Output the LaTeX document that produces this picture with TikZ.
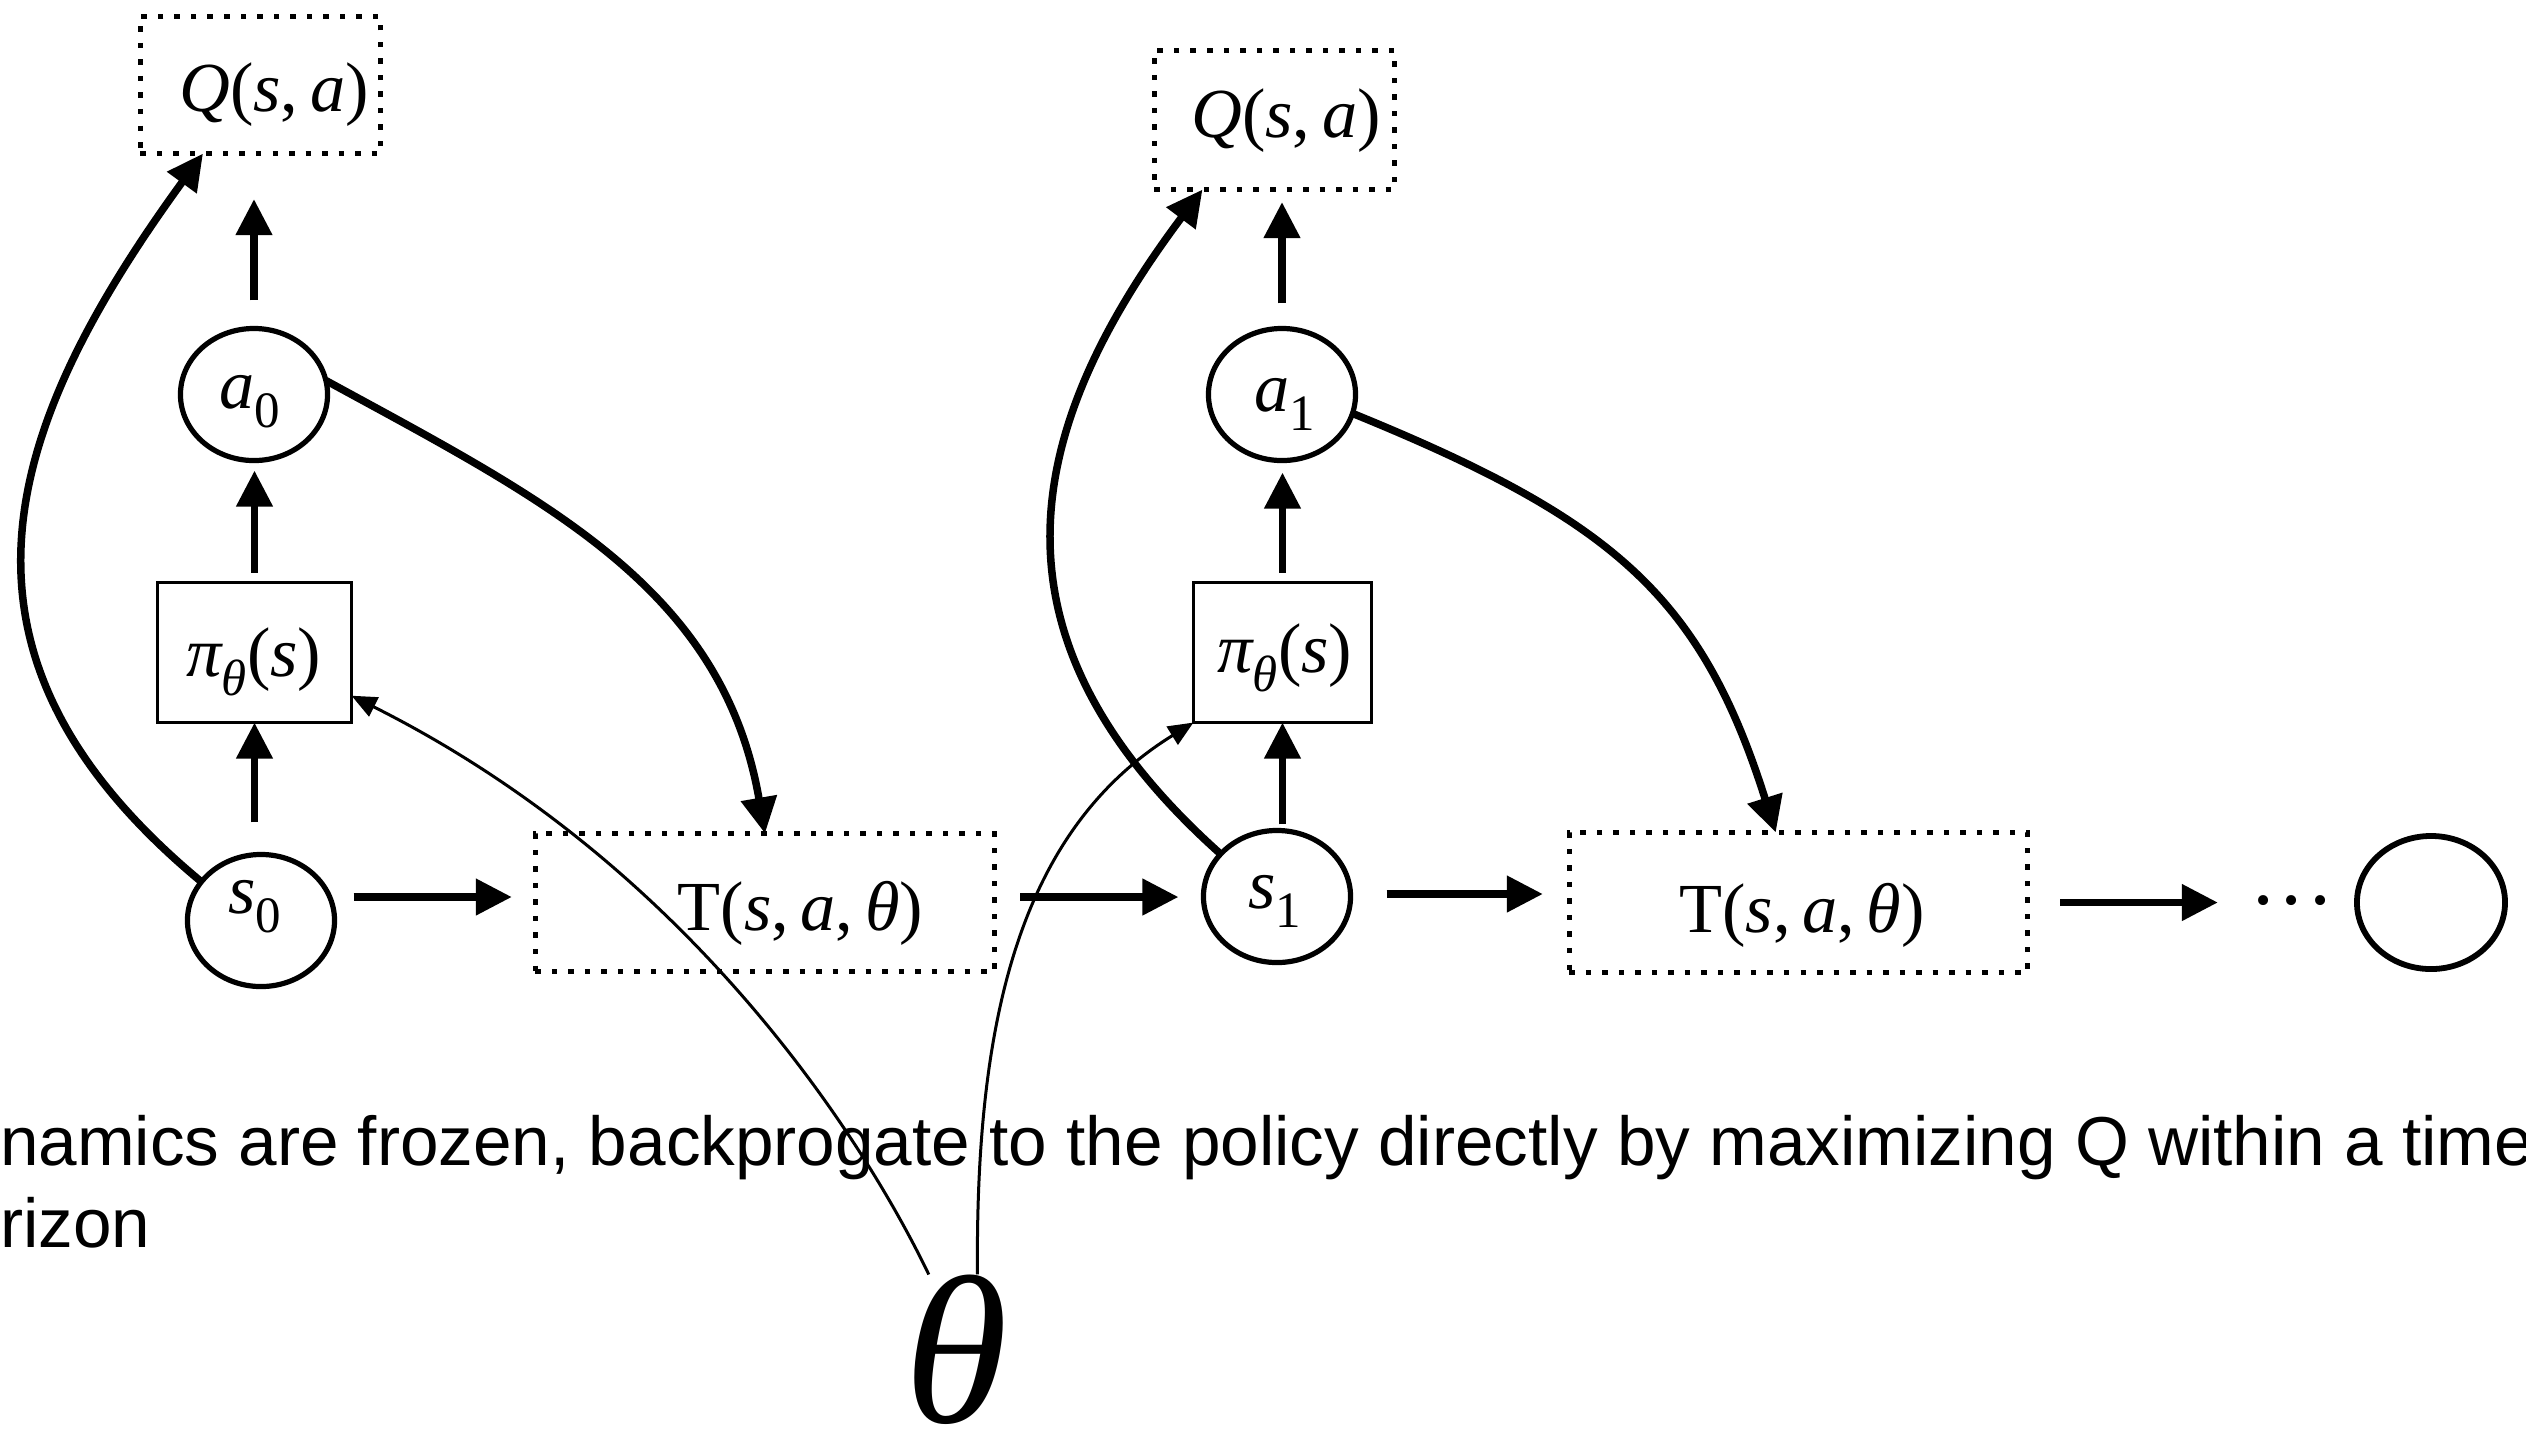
\documentclass[tikz,border=0pt]{standalone}
\usepackage{fontspec}
\usetikzlibrary{shapes.geometric,arrows.meta,calc}
\newfontfamily\tms{Liberation Serif}
\newfontfamily\hel{Liberation Sans}
\newcommand\mi[1]{{\itshape #1}}
\newcommand\sbx[1]{\raisebox{-0.19cm}{\fontsize{14.5}{14.5}\selectfont #1}}
\newcommand\mfont{\tms\fontsize{20}{24}\selectfont}
\tikzset{
  dotbox/.style={draw, rectangle, line width=0.055cm, dash pattern=on 0.055cm off 0.11cm, inner sep=0, outer sep=0},
  pbox/.style={draw, rectangle, line width=0.03cm, inner sep=0, outer sep=0},
  ell/.style={draw, ellipse, line width=0.052cm, inner sep=0, outer sep=0, minimum width=1.47cm, minimum height=1.32cm},
  lbl/.style={inner sep=0, outer sep=0, anchor=base, font=\mfont},
  arr/.style={line width=0.075cm, -{Triangle[length=0.36cm,width=0.35cm]}},
  thinarr/.style={line width=0.03cm, -{Triangle[length=0.25cm,width=0.21cm]}},
  captxt/.style={anchor=base west, inner sep=0, outer sep=0, font=\hel\fontsize{19.7}{24}\selectfont},
}
\begin{document}
\begin{tikzpicture}[x=0.01cm, y=-0.01cm]
\useasboundingbox (0,0) rectangle (2526,1438);
\clip (0,0) rectangle (2526,1438);
% boxes and ellipses
\node[dotbox, minimum width=2.40cm, minimum height=1.37cm] (Q0) at (260.5,85) {};
\node[dotbox, minimum width=2.40cm, minimum height=1.39cm] (Q1) at (1274.5,120) {};
\node[ell] (a0) at (254,394.5) {};
\node[ell] (a1) at (1282,394.5) {};
\node[pbox, minimum width=1.94cm, minimum height=1.40cm] (pi0) at (254.5,652.5) {};
\node[pbox, minimum width=1.78cm, minimum height=1.40cm] (pi1) at (1282.5,652.5) {};
\node[ell] (s0) at (261,920.5) {};
\node[ell] (s1) at (1277,896.5) {};
\node[dotbox, minimum width=4.59cm, minimum height=1.38cm] (T0) at (765,902.5) {};
\node[dotbox, minimum width=4.58cm, minimum height=1.40cm] (T1) at (1798.5,902.5) {};
\node[ell, line width=0.058cm, minimum width=1.48cm, minimum height=1.33cm] (E) at (2431,902.5) {};
% labels
\node[lbl] (Q0t) at (274,111) {\mi{Q}(\mi{s},\,\mi{a})};
\node[lbl] (Q1t) at (1286,137) {\mi{Q}(\mi{s},\,\mi{a})};
\node[lbl] (a0t) at (250,408) {\mi{a}\sbx{0}};
\node[lbl] (a1t) at (1285,411) {\mi{a}\sbx{1}};
\node[lbl] (pi0t) at (254,676) {\mi{π}\sbx{\mi{θ}}(\mi{s})};
\node[lbl] (pi1t) at (1285,672) {\mi{π}\sbx{\mi{θ}}(\mi{s})};
\node[lbl] (s0t) at (255,913) {\mi{s}\sbx{0}};
\node[lbl] (s1t) at (1275,908) {\mi{s}\sbx{1}};
\node[lbl] (T0t) at (800.5,930) {T(\mi{s},\,\mi{a},\,\mi{θ})};
\node[lbl] (T1t) at (1802,932) {T(\mi{s},\,\mi{a},\,\mi{θ})};
\node[lbl, font=\tms\fontsize{24}{24}\selectfont] (dots) at (2292,928) {···};
\node[lbl, font=\tms\fontsize{60}{60}\selectfont] (th) at (956,1422) {\mi{θ}};
% caption
\node[captxt] (cap1) at (0,1165) {namics are frozen, backprogate to the policy directly by maximizing Q within a time};
\node[captxt] (cap2) at (0,1247) {rizon};
% helper coordinates
\coordinate (r0) at ([yshift=0.055cm]T0.west);
\coordinate (r1) at ([yshift=0.085cm]T1.west);
% straight arrows
\draw[arr, shorten <=0.28cm, shorten >=0.455cm] (a0.north) -- (a0.north |- Q0.south);
\draw[arr, shorten <=0.25cm, shorten >=0.125cm] (a1.north) -- (a1.north |- Q1.south);
\draw[arr, shorten <=0.095cm, shorten >=0.10cm] (pi0.north) -- (pi0.north |- a0.south);
\draw[arr, shorten <=0.095cm, shorten >=0.12cm] (pi1.north) -- (pi1.north |- a1.south);
\draw[arr, shorten <=0.32cm] (pi0.south |- s0.north) -- (pi0.south);
\draw[arr, shorten <=0.06cm] (pi1.south |- s1.north) -- (pi1.south);
\draw[arr, shorten <=0.19cm, shorten >=0.235cm] (s0.east |- r0) -- (r0);
\draw[arr, shorten <=0.255cm, shorten >=0.25cm] (T0.east |- r0) -- (s1.west |- r0);
\draw[arr, shorten <=0.36cm, shorten >=0.265cm] (s1.east |- r1) -- (r1);
\draw[arr, shorten <=0.325cm, shorten >=1.39cm] (T1.east) -- (T1.east -| E.west);
% curved arrows
\draw[arr] (s0.147) .. controls +(-270,-224) and +(-206,283) .. (Q0.230);
\draw[arr] (s1.143) .. controls +(-235,-210) and +(-189,252) .. (Q1.224);
\draw[arr] (a0.11) .. controls +(220,120) and +(-42.5,-246) .. (T0.north);
\draw[arr] (a1.-15) .. controls +(260,106) and +(-75,-237.5) .. (T1.108);
\draw[thinarr] (th.110) .. controls +(-60,-125) and +(345,173) .. (pi0.-24);
\draw[thinarr] (th.74) .. controls +(-2,-245) and +(-178,110) .. (pi1.south west);
\end{tikzpicture}
\end{document}
